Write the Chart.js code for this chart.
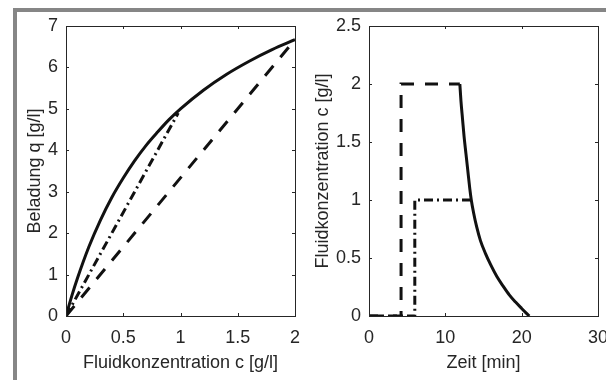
<!DOCTYPE html>
<html>
<head>
<meta charset="utf-8">
<script src="https://cdn.jsdelivr.net/npm/chart.js@4.4.0/dist/chart.umd.min.js"></script>
<style>
  html, body { margin: 0; padding: 0; background: #fff; }
  #wrap { position: relative; width: 606px; height: 380px; overflow: hidden; }
  #frame { position: absolute; left: 13px; top: 8px; width: 700px; height: 400px;
           border-left: 4px solid #868686; border-top: 4px solid #868686; }
  canvas { position: absolute; top: 0; }
  #isotherm { left: 0; }
  #profile { left: 303px; }
</style>
</head>
<body>
<div id="wrap">
  <div id="frame"></div>
  <canvas id="isotherm" width="303" height="380"></canvas>
  <canvas id="profile" width="303" height="380"></canvas>
</div>
<script>
// isotherm: loading q over fluid concentration c
const isoC = [0, 0.05, 0.1, 0.2, 0.3, 0.4, 0.5, 0.6, 0.7, 0.8, 0.9, 1.0, 1.2, 1.4, 1.6, 1.8, 2.0];
const isoQ = [0, 0.48, 0.91, 1.67, 2.31, 2.86, 3.33, 3.75, 4.12, 4.44, 4.74, 5.0, 5.45, 5.83, 6.15, 6.43, 6.67];
const chordHalfC = [0, 0.98];
const chordHalfQ = [0, 4.9];
const chordFullC = [0, 2];
const chordFullQ = [0, 6.67];
const isoXTicks = [0, 0.5, 1, 1.5, 2];
const isoYTicks = [0, 1, 2, 3, 4, 5, 6, 7];

// outlet profile: concentration over time
const desorbT = [11.9, 12.05, 12.25, 12.45, 12.7, 12.95, 13.2, 13.4, 13.7, 14.1, 14.6, 15.25, 15.95, 16.75, 17.55, 18.4, 19.2, 20.0, 20.6, 21.0];
const desorbC = [2.0, 1.85, 1.7, 1.55, 1.4, 1.25, 1.1, 1.0, 0.89, 0.77, 0.65, 0.54, 0.44, 0.34, 0.26, 0.18, 0.12, 0.065, 0.025, 0];
const stepFullT = [0, 4.2, 4.2, 11.9];
const stepFullC = [0, 0, 2, 2];
const stepHalfT = [0, 6, 6, 13.4];
const stepHalfC = [0, 0, 1, 1];
const profXTicks = [0, 10, 20, 30];
const profYTicks = [0, 0.5, 1, 1.5, 2, 2.5];

const ink = '#262626';
const font = { family: "'Liberation Sans', Arial, sans-serif", size: 18 };

function pts(xs, ys) {
  return xs.map((x, i) => ({ x: x, y: ys[i] }));
}

function line(xs, ys, dash, smooth) {
  return {
    data: pts(xs, ys),
    showLine: true,
    borderColor: '#111',
    borderWidth: 3,
    borderDash: dash,
    borderJoinStyle: 'miter',
    cubicInterpolationMode: smooth ? 'monotone' : 'default',
    tension: 0,
    pointRadius: 0,
    fill: false
  };
}

// box round the plot area with short inward tick marks on all four sides
const boxTicks = {
  id: 'boxTicks',
  afterDraw(chart) {
    const { ctx, chartArea: a, scales } = chart;
    const len = 3;
    ctx.save();
    ctx.strokeStyle = ink;
    ctx.lineWidth = 1;
    ctx.strokeRect(a.left + 0.5, a.top + 0.5, a.right - a.left, a.bottom - a.top);
    ctx.beginPath();
    scales.x.ticks.forEach(t => {
      const px = Math.round(scales.x.getPixelForValue(t.value)) + 0.5;
      ctx.moveTo(px, a.bottom); ctx.lineTo(px, a.bottom - len);
      ctx.moveTo(px, a.top); ctx.lineTo(px, a.top + len);
    });
    scales.y.ticks.forEach(t => {
      const py = Math.round(scales.y.getPixelForValue(t.value)) + 0.5;
      ctx.moveTo(a.left, py); ctx.lineTo(a.left + len, py);
      ctx.moveTo(a.right, py); ctx.lineTo(a.right - len, py);
    });
    ctx.stroke();
    ctx.restore();
  }
};

function axes(xMax, xTicks, xTitle, yMax, yTicks, yTitle, yTitlePad) {
  return {
    x: {
      type: 'linear', min: 0, max: xMax,
      afterBuildTicks: s => { s.ticks = xTicks.map(v => ({ value: v })); },
      afterFit: s => { s.height = 64; s.paddingLeft = 0; s.paddingRight = 0; },
      grid: { display: false, drawTicks: false },
      border: { display: false },
      ticks: { color: ink, font: font, padding: 11, maxRotation: 0, autoSkip: false, callback: v => String(v) },
      title: { display: true, text: xTitle, color: ink, font: font, padding: { top: 0, bottom: 6 } }
    },
    y: {
      type: 'linear', min: 0, max: yMax,
      afterBuildTicks: s => { s.ticks = yTicks.map(v => ({ value: v })); },
      afterFit: s => { s.width = 66; s.paddingTop = 0; s.paddingBottom = 0; },
      grid: { display: false, drawTicks: false },
      border: { display: false },
      ticks: { color: ink, font: font, padding: 8, autoSkip: false, callback: v => String(v) },
      title: { display: true, text: yTitle, color: ink, font: font, padding: { top: yTitlePad, bottom: 0 } }
    }
  };
}

function baseOptions(scales) {
  return {
    responsive: false,
    animation: false,
    devicePixelRatio: 1,
    layout: { padding: { top: 26, right: 8, left: 0, bottom: 0 } },
    plugins: { legend: { display: false }, tooltip: { enabled: false } },
    scales: scales
  };
}

new Chart(document.getElementById('isotherm'), {
  type: 'scatter',
  data: {
    datasets: [
      line(isoC, isoQ, [], true),
      line(chordHalfC, chordHalfQ, [9, 4, 2, 4], false),
      line(chordFullC, chordFullQ, [13, 11], false)
    ]
  },
  options: baseOptions(axes(2, isoXTicks, 'Fluidkonzentration c [g/l]', 7, isoYTicks, 'Beladung q [g/l]', 24)),
  plugins: [boxTicks]
});

new Chart(document.getElementById('profile'), {
  type: 'scatter',
  data: {
    datasets: [
      line(desorbT, desorbC, [], true),
      line(stepHalfT, stepHalfC, [9, 4, 2, 4], false),
      line(stepFullT, stepFullC, [13, 11], false)
    ]
  },
  options: baseOptions(axes(30, profXTicks, 'Zeit [min]', 2.5, profYTicks, 'Fluidkonzentration c [g/l]', 9)),
  plugins: [boxTicks]
});
</script>
</body>
</html>
